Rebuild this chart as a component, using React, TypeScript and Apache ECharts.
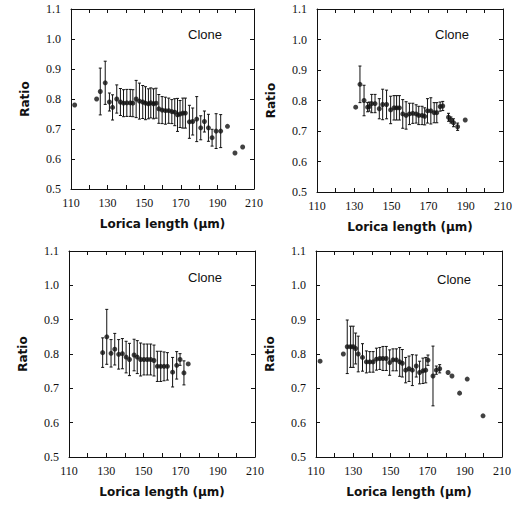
import { useEffect, useRef } from 'react';
import * as echarts from 'echarts';

// Tick labels
const xTickValues = [110, 130, 150, 170, 190, 210];
const yTickValues = [0.5, 0.6, 0.7, 0.8, 0.9, 1.0, 1.1];

// Panel 1 (top left)
const p1X = [112, 124, 126, 128.7, 131, 132.7, 135, 137, 138.7, 140.5, 142.4, 143.8, 145.6, 147.4, 149.2, 150.7, 152.3, 153.6, 155.1, 156.5, 158, 159.8, 161.6, 163.4, 165.1, 166.7, 168.2, 169.6, 171.1, 172.5, 174.7, 176.5, 178.7, 180.9, 182.9, 185.1, 187.1, 189.3, 191.8, 195.5, 199.6, 203.8];
const p1Y = [0.78, 0.8, 0.825, 0.854, 0.79, 0.772, 0.8, 0.79, 0.786, 0.787, 0.787, 0.786, 0.8, 0.793, 0.79, 0.786, 0.784, 0.787, 0.784, 0.786, 0.767, 0.763, 0.761, 0.761, 0.758, 0.756, 0.747, 0.75, 0.753, 0.753, 0.724, 0.725, 0.733, 0.704, 0.725, 0.704, 0.671, 0.693, 0.693, 0.709, 0.62, 0.64];
const p1Err = [0, 0, 0.078, 0.072, 0.03, 0.042, 0.047, 0.045, 0.045, 0.045, 0.045, 0.045, 0.062, 0.06, 0.055, 0.055, 0.05, 0.05, 0.05, 0.05, 0.048, 0.045, 0.045, 0.042, 0.04, 0.045, 0.055, 0.045, 0.05, 0.05, 0.055, 0.045, 0.075, 0.04, 0.035, 0.045, 0.028, 0.058, 0.055, 0, 0, 0];

// Panel 2 (top right)
const p2X = [130.8, 133.1, 135.3, 137.2, 138.1, 139.4, 141.2, 143.5, 145.3, 147.4, 149.6, 151.4, 152.8, 154.3, 156.1, 157.9, 159.7, 161.5, 163.3, 164.7, 166.5, 167.9, 169.4, 171.2, 173, 174.4, 176.2, 177.6, 180.7, 182, 183.4, 185.6, 189.7];
const p2Y = [0.778, 0.853, 0.8, 0.778, 0.78, 0.79, 0.79, 0.773, 0.787, 0.787, 0.769, 0.776, 0.776, 0.776, 0.756, 0.751, 0.756, 0.758, 0.756, 0.751, 0.751, 0.748, 0.766, 0.766, 0.76, 0.76, 0.78, 0.782, 0.745, 0.736, 0.727, 0.714, 0.736];
const p2Err = [0, 0.06, 0.05, 0.015, 0.015, 0.03, 0.03, 0.033, 0.05, 0.047, 0.045, 0.04, 0.04, 0.04, 0.047, 0.045, 0.035, 0.033, 0.03, 0.03, 0.03, 0.028, 0.04, 0.043, 0.033, 0.033, 0.015, 0.015, 0.013, 0.01, 0.013, 0.012, 0];

// Panel 3 (bottom left)
const p3X = [128.1, 130.3, 132.6, 134.6, 136.7, 138.7, 140.7, 142.5, 145, 146.7, 148.5, 150.3, 152.1, 153.9, 155.7, 157.5, 159.3, 161.1, 162.9, 165.7, 167.9, 169.7, 171.8, 174.1];
const p3Y = [0.804, 0.85, 0.802, 0.814, 0.799, 0.801, 0.791, 0.784, 0.797, 0.791, 0.784, 0.784, 0.784, 0.784, 0.781, 0.764, 0.764, 0.764, 0.764, 0.747, 0.767, 0.784, 0.745, 0.771];
const p3Err = [0.043, 0.08, 0.04, 0.046, 0.043, 0.044, 0.046, 0.047, 0.046, 0.048, 0.048, 0.045, 0.045, 0.045, 0.045, 0.044, 0.044, 0.042, 0.04, 0.043, 0.04, 0.017, 0.035, 0];

// Panel 4 (bottom right)
const p4X = [112.2, 124.7, 126.8, 128.6, 130, 131.3, 132.7, 135, 137.1, 138.9, 140.7, 142.5, 144.3, 146, 147.8, 149.6, 151.4, 153.2, 155, 156.4, 158.2, 160, 161.8, 163.9, 165.7, 167.5, 169, 170.2, 172.9, 174.7, 176.5, 181, 183.1, 187.2, 191.3, 199.8];
const p4Y = [0.779, 0.8, 0.821, 0.821, 0.821, 0.816, 0.8, 0.79, 0.777, 0.777, 0.777, 0.785, 0.787, 0.787, 0.787, 0.775, 0.783, 0.783, 0.777, 0.773, 0.753, 0.757, 0.753, 0.765, 0.746, 0.751, 0.753, 0.782, 0.736, 0.753, 0.757, 0.746, 0.736, 0.686, 0.727, 0.62];
const p4Err = [0, 0, 0.078, 0.06, 0.06, 0.045, 0.052, 0.04, 0.032, 0.03, 0.03, 0.032, 0.032, 0.035, 0.035, 0.037, 0.032, 0.032, 0.042, 0.04, 0.037, 0.037, 0.045, 0.032, 0.033, 0.037, 0.037, 0.015, 0.087, 0.012, 0.012, 0, 0, 0, 0, 0];

const panelLabel = 'Clone';
const xName = 'Lorica length (μm)';
const yName = 'Ratio';

const panels = [
  { x: p1X, y: p1Y, err: p1Err },
  { x: p2X, y: p2Y, err: p2Err },
  { x: p3X, y: p3Y, err: p3Err },
  { x: p4X, y: p4Y, err: p4Err },
];

const grids = [
  { left: 71, top: 9, width: 183, height: 180 },
  { left: 317, top: 9, width: 186, height: 183 },
  { left: 69, top: 251, width: 186, height: 206 },
  { left: 316, top: 251, width: 186, height: 206 },
];

const clonePos = [
  [188, 34],
  [435, 34],
  [188, 277],
  [437, 279],
];

const ink = '#111';
const serif = '"Liberation Serif", "DejaVu Serif", serif';
const sansBold = '"DejaVu Sans", sans-serif';

export default function App() {
  const ref = useRef<HTMLDivElement>(null);
  useEffect(() => {
    const chart = echarts.init(ref.current!, null, { renderer: 'svg' });
    const xAxes: any[] = [];
    const yAxes: any[] = [];
    const series: any[] = [];
    const axisLine = { show: true, onZero: false, lineStyle: { color: ink, width: 1 } };
    const tick = { show: true, inside: true, length: 4, lineStyle: { color: ink, width: 1 } };
    panels.forEach((p, i) => {
      xAxes.push({
        type: 'value', gridIndex: i, position: 'bottom', min: 110, max: 210, interval: 10,
        axisLine, axisTick: tick, splitLine: { show: false },
        axisLabel: {
          margin: 8, color: ink, fontFamily: serif, fontSize: 12,
          formatter: (v: number) => (xTickValues.includes(Math.round(v)) ? String(Math.round(v)) : ''),
        },
        name: xName, nameLocation: 'middle', nameGap: 29,
        nameTextStyle: { color: ink, fontFamily: sansBold, fontWeight: 'bold', fontSize: 12 },
      });
      xAxes.push({
        type: 'value', gridIndex: i, position: 'top', min: 110, max: 210, interval: 10,
        axisLine, axisTick: tick, axisLabel: { show: false }, splitLine: { show: false },
      });
      yAxes.push({
        type: 'value', gridIndex: i, position: 'left', min: 0.5, max: 1.1, interval: 0.1,
        axisLine, axisTick: tick, splitLine: { show: false },
        axisLabel: {
          margin: 10, color: ink, fontFamily: serif, fontSize: 12,
          formatter: (v: number) => {
            const s = v.toFixed(1);
            return yTickValues.some((t) => t.toFixed(1) === s) ? s : '';
          },
        },
        name: yName, nameLocation: 'middle', nameGap: 40,
        nameTextStyle: { color: ink, fontFamily: sansBold, fontWeight: 'bold', fontSize: 12 },
      });
      yAxes.push({
        type: 'value', gridIndex: i, position: 'right', min: 0.5, max: 1.1, interval: 0.1,
        axisLine, axisTick: tick, axisLabel: { show: false }, splitLine: { show: false },
      });
      const errData = p.x
        .map((xv, k) => [xv, p.y[k] - p.err[k], p.y[k] + p.err[k], p.err[k]])
        .filter((d) => d[3] > 0);
      series.push({
        type: 'custom', xAxisIndex: i * 2, yAxisIndex: i * 2,
        data: errData, encode: { x: 0, y: [1, 2] }, silent: true,
        renderItem: (_params: any, api: any) => {
          const xv = api.value(0);
          const top = api.coord([xv, api.value(2)]);
          const bot = api.coord([xv, api.value(1)]);
          const w = 1.5;
          const st = { stroke: ink, lineWidth: 1 };
          return {
            type: 'group',
            children: [
              { type: 'line', shape: { x1: top[0], y1: top[1], x2: bot[0], y2: bot[1] }, style: st },
              { type: 'line', shape: { x1: top[0] - w, y1: top[1], x2: top[0] + w, y2: top[1] }, style: st },
              { type: 'line', shape: { x1: bot[0] - w, y1: bot[1], x2: bot[0] + w, y2: bot[1] }, style: st },
            ],
          };
        },
      });
      series.push({
        type: 'scatter', xAxisIndex: i * 2, yAxisIndex: i * 2,
        data: p.x.map((xv, k) => [xv, p.y[k]]),
        symbol: 'circle', symbolSize: 5, itemStyle: { color: ink }, silent: true,
      });
    });
    chart.setOption({
      animation: false,
      backgroundColor: '#fff',
      grid: grids.map((g) => ({ ...g, containLabel: false })),
      xAxis: xAxes,
      yAxis: yAxes,
      series,
      graphic: clonePos.map(([x, y]) => ({
        type: 'text', x, y,
        style: { text: panelLabel, fill: ink, font: '13px "Liberation Sans", Arial, sans-serif', textVerticalAlign: 'middle' },
      })),
    });
    return () => chart.dispose();
  }, []);
  return (
    <div
      ref={ref}
      style={{ position: 'absolute', left: 0, top: 0, width: 525, height: 506, background: '#fff' }}
    />
  );
}
